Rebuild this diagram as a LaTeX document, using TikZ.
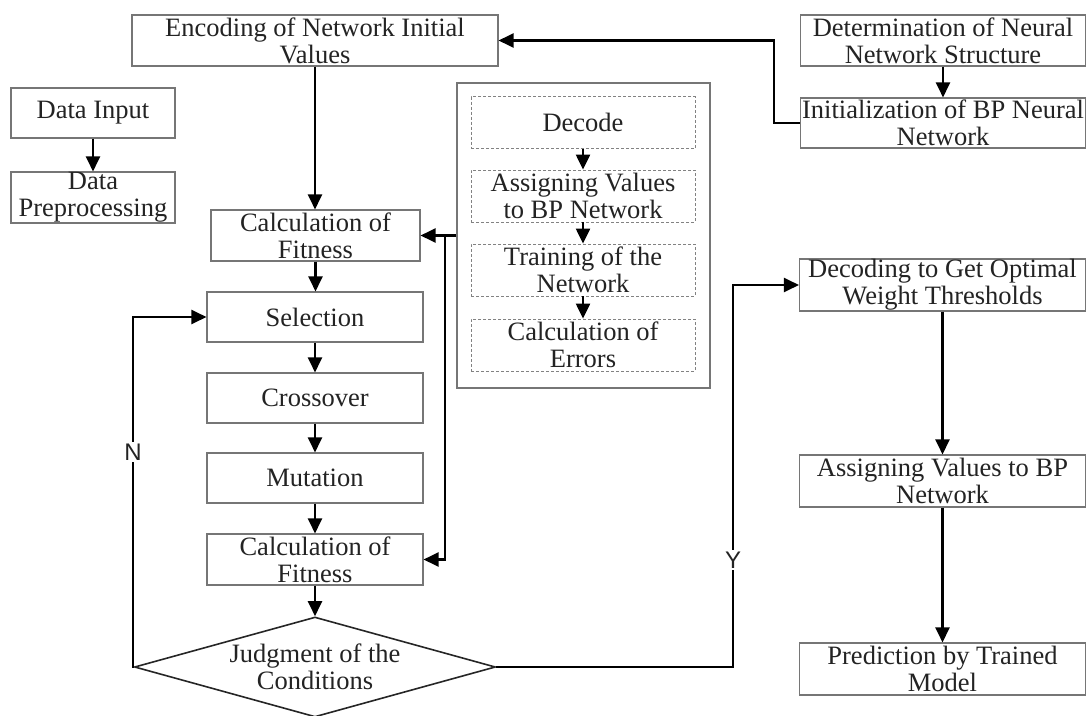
\documentclass[tikz,border=0pt]{standalone}
\usepackage{fontspec}
\setmainfont{Liberation Serif}
\setsansfont{Liberation Sans}
\usetikzlibrary{arrows.meta,shapes.geometric}
\definecolor{bordergray}{RGB}{118,118,118}
\definecolor{dashgray}{RGB}{130,130,130}
\definecolor{textgray}{RGB}{35,35,35}
\newcommand\dgfont{\fontsize{26.5}{27}\selectfont}
\tikzset{
  box/.style={draw=bordergray, line width=1.1pt, inner sep=0pt, align=center,
              font=\dgfont, text=textgray},
  dbox/.style={box, dash pattern=on 3pt off 2pt, draw=dashgray, line width=0.8pt,
               minimum width=224pt, minimum height=52pt},
  arr/.style={-{Triangle[width=14pt,length=15pt]}, line width=2.2pt, draw=black,
              line join=miter},
  yn/.style={fill=white, inner sep=2pt, font=\sffamily\fontsize{24}{26}\selectfont, text=textgray}
}
\begin{document}
\begin{tikzpicture}[x=1pt,y=-1pt]
\useasboundingbox (0,0) rectangle (1087,715);

% input branch
\node[box, minimum width=164pt, minimum height=50pt] (din) at (93,113) {Data Input};
\node[box, minimum width=164pt, minimum height=51pt] (dpre) at (93,197.5) {Data\\Preprocessing};

% genetic algorithm column
\node[box, minimum width=366pt, minimum height=51pt] (enc) at (315,40.5) {Encoding of Network Initial\\Values};
\node[box, minimum width=209pt, minimum height=51pt] (fit1) at (315.5,235.5) {Calculation of\\Fitness};
\node[box, minimum width=216pt, minimum height=50pt] (sel) at (315,317) {Selection};
\node[box, minimum width=216pt, minimum height=50pt] (cro) at (315,398) {Crossover};
\node[box, minimum width=216pt, minimum height=50pt] (mut) at (315,478) {Mutation};
\node[box, minimum width=216pt, minimum height=51pt] (fit2) at (315,559.5) {Calculation of\\Fitness};
\node[box, diamond, aspect=3.6, minimum width=361pt, minimum height=100pt, line width=1.6pt, draw=black!85] (dia) at (315,667) {Judgment of the\\Conditions};

% BP network evaluation block
\node[draw=bordergray, line width=1.4pt, minimum width=253pt, minimum height=305pt, inner sep=0pt] (outer) at (583.5,235.5) {};
\node[dbox] (dec) at (583,122.5) {Decode};
\node[dbox] (asg) at (583,196) {Assigning Values\\to BP Network};
\node[dbox] (trn) at (583,270) {Training of the\\Network};
\node[dbox] (err) at (583,345) {Calculation of\\Errors};

% network set-up and output column
\node[box, minimum width=285pt, minimum height=51pt] (det) at (943,40.5) {Determination of Neural\\Network Structure};
\node[box, minimum width=285pt, minimum height=50pt] (init) at (943,123) {Initialization of BP Neural\\Network};
\node[box, minimum width=286pt, minimum height=52pt] (decg) at (942.5,285) {Decoding to Get Optimal\\Weight Thresholds};
\node[box, minimum width=286pt, minimum height=52pt] (asg2) at (942.5,481) {Assigning Values to BP\\Network};
\node[box, minimum width=286pt, minimum height=52pt] (pred) at (942.5,669) {Prediction by Trained\\Model};

% connectors
\draw[arr] (din.south) -- (din.south |- dpre.north);
\draw[arr] (det.south) -- (det.south |- init.north);
\coordinate (ic) at (774,123);
\draw[arr] (init.west) -- (ic) |- (enc.east);
\draw[arr] (enc.south) -- (enc.south |- fit1.north);
\draw[arr] (fit1.south) -- (fit1.south |- sel.north);
\draw[arr] (sel.south) -- (sel.south |- cro.north);
\draw[arr] (cro.south) -- (cro.south |- mut.north);
\draw[arr] (mut.south) -- (mut.south |- fit2.north);
\draw[arr] (fit2.south) -- (dia.north);

\draw[arr] (dec.south) -- (asg.north);
\draw[arr] (asg.south) -- (trn.north);
\draw[arr] (trn.south) -- (err.north);

\draw[arr] (outer.west) -- (fit1.east);
\coordinate (br) at (445,235.5);
\draw[arr] (br) -- (br |- fit2.east) -- (fit2.east);

\coordinate (nc) at (133,667);
\draw[arr] (dia.west) -- (nc) |- (sel.west);
\node[yn] (nlab) at (133,452) {N};

\coordinate (yc) at (733,667);
\draw[arr] (dia.east) -- (yc) |- (decg.west);
\node[yn] (ylab) at (733,560) {Y};

\draw[arr] (decg.south) -- (asg2.north);
\draw[arr] (asg2.south) -- (pred.north);
\end{tikzpicture}
\end{document}
